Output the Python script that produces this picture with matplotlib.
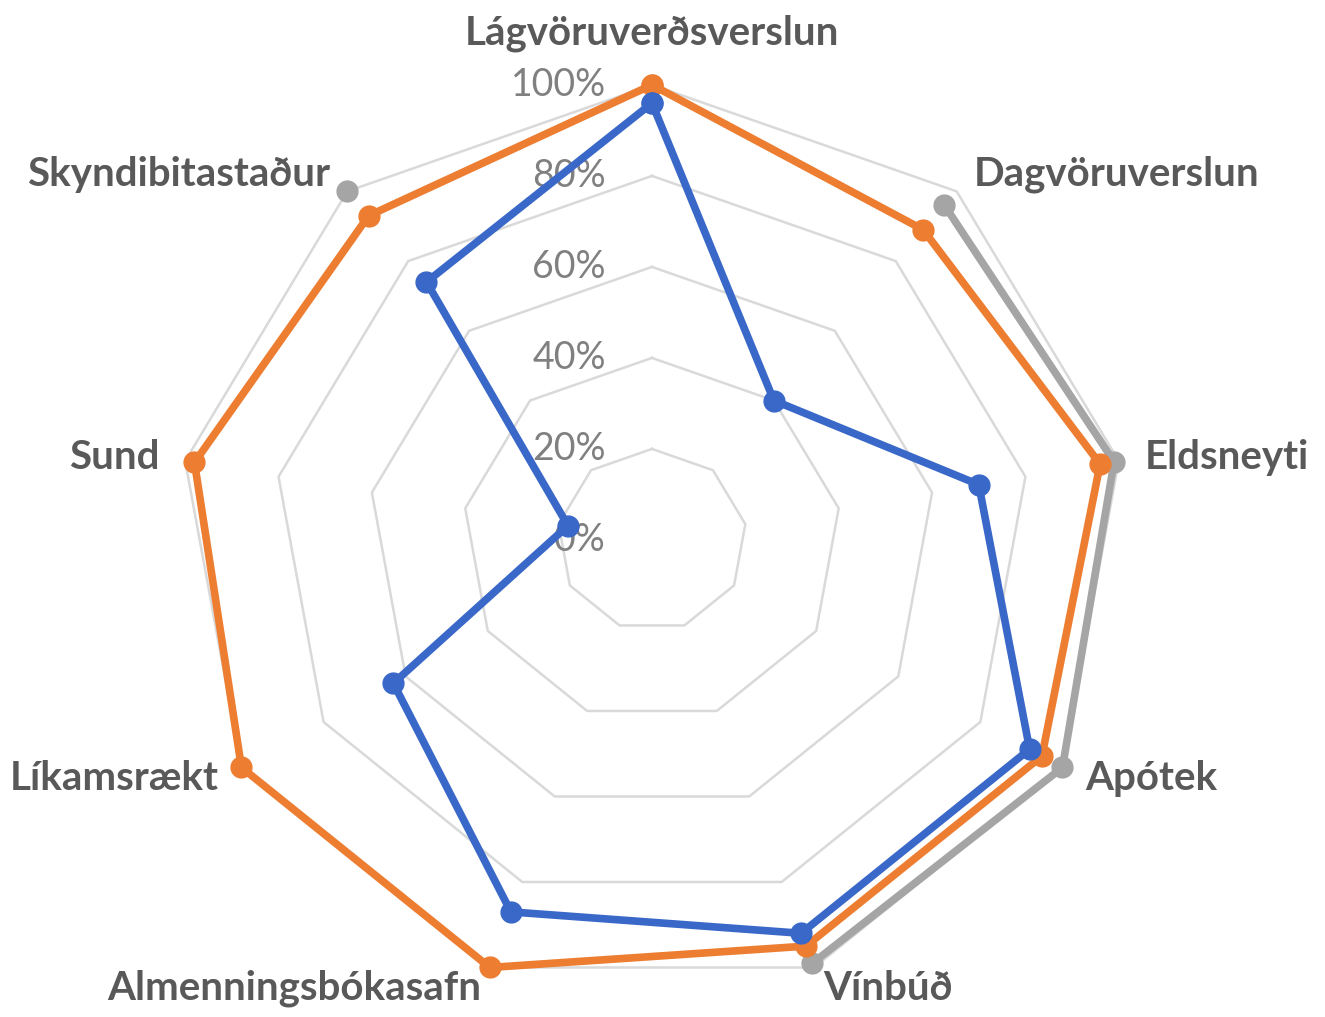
import numpy as np
import matplotlib.pyplot as plt

plt.rcParams['font.family'] = ['Lato', 'DejaVu Sans']

categories = ['Lágvöruverðsverslun', 'Dagvöruverslun', 'Eldsneyti', 'Apótek', 'Vínbúð',
              'Almenningsbókasafn', 'Líkamsrækt', 'Sund', 'Skyndibitastaður']
grey_vals = [np.nan, 96, 99, 100, 99, np.nan, np.nan, np.nan, 100]
orange_vals = [100, 89, 96, 95, 95, 100, 100, 98, 93]
blue_vals = [96, 40, 70, 92, 92, 87, 63, 18, 74]
ring_vals = [20, 40, 60, 80, 100]
tick_labels = ['0%', '20%', '40%', '60%', '80%', '100%']

n = len(categories)
theta = np.arange(n) * 2 * np.pi / n
theta_c = np.append(theta, theta[0])

fig = plt.figure(figsize=(13.25, 10.17), dpi=100)
ax = fig.add_axes([0.1343, 0.0217, 0.7155, 0.8948], projection='polar')
ax.set_aspect('auto')
ax.set_theta_offset(np.pi / 2)
ax.set_theta_direction(-1)
ax.set_ylim(0, 100)
ax.set_axis_off()

# grid rings (nonagons)
for v in ring_vals:
    ax.plot(theta_c, [v] * (n + 1), color='#d9d9d9', lw=1.8, zorder=1, clip_on=False)

def close(vals):
    return np.append(vals, vals[0])

series = [(grey_vals, '#a5a5a5'), (orange_vals, '#ed7d31'), (blue_vals, '#3a68c9')]
for i, (vals, col) in enumerate(series):
    ax.plot(theta_c, close(vals), color=col, lw=5.5, marker='o', ms=15,
            zorder=3 + i, clip_on=False)

# radial tick labels along the top axis
for v, lab in zip([0] + ring_vals, tick_labels):
    ax.annotate(lab, xy=(0, v), xytext=(-46, 0), textcoords='offset pixels',
                ha='right', va='center', fontsize=27, color='#808080', zorder=2)

# category labels
for t, lab in zip(theta, categories):
    s, c = np.sin(t), np.cos(t)
    if abs(s) < 0.1:
        ax.annotate(lab, xy=(t, 100), xytext=(0, 33), textcoords='offset pixels',
                    ha='center', va='bottom', fontsize=29, fontweight='bold', color='#595959')
        continue
    ha = 'left' if s > 0 else 'right'
    ax.annotate(lab, xy=(t, 100), xytext=(26 * s, 22 * c), textcoords='offset pixels',
                ha=ha, va='center', fontsize=29, fontweight='bold', color='#595959')

fig.savefig('out.png', dpi=100)
